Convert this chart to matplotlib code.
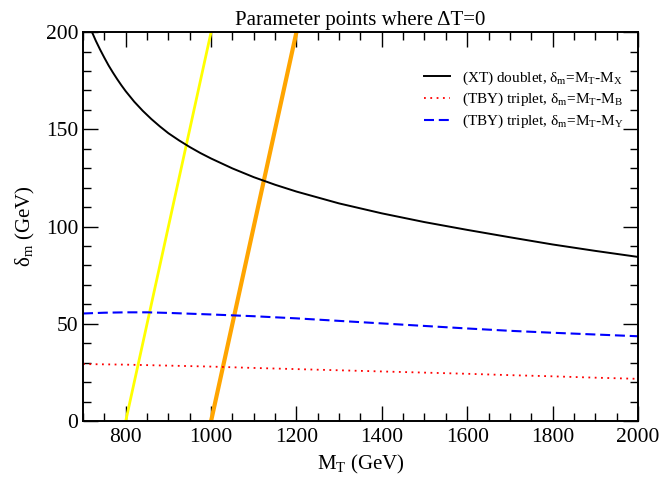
import numpy as np
import matplotlib
matplotlib.use('Agg')
import matplotlib.pyplot as plt
from matplotlib.ticker import MultipleLocator

plt.rcParams['font.family'] = 'Liberation Serif'
plt.rcParams['mathtext.fontset'] = 'custom'
plt.rcParams['mathtext.rm'] = 'Liberation Serif'
plt.rcParams['mathtext.it'] = 'Liberation Serif:italic'

# (XT) doublet curve
mt_xt = [721, 730, 740, 750, 760, 770, 780, 790, 800, 820, 840, 860, 880, 900, 925, 950, 975,
         1000, 1050, 1100, 1150, 1200, 1300, 1400, 1500, 1600, 1700, 1800, 1900, 2000]
dm_xt = [200, 195.5, 191, 186.8, 182.8, 179.2, 175.8, 172.6, 169.6, 164.2, 159.5, 155.3, 151.5,
         148, 144.3, 140.9, 137.8, 135, 129.9, 125.4, 121.5, 118, 111.9, 106.8, 102.3,
         98.3, 94.5, 90.8, 87.5, 84.4]

# (TBY) triplet, M_B
mt_b = [700, 800, 900, 1000, 1100, 1200, 1300, 1400, 1500, 1600, 1700, 1800, 1900, 2000]
dm_b = [29.3, 29.0, 28.5, 28.0, 27.3, 26.7, 26.1, 25.5, 24.9, 24.3, 23.6, 23.0, 22.3, 21.7]

# (TBY) triplet, M_Y
mt_y = [700, 750, 800, 850, 900, 1000, 1100, 1200, 1300, 1400, 1500, 1600, 1700, 1800, 1900, 2000]
dm_y = [55.3, 55.7, 55.9, 55.9, 55.6, 54.8, 53.9, 52.8, 51.5, 50.2, 48.9, 47.6, 46.4, 45.4, 44.5, 43.6]

# Delta T = 0 lines
yellow_x = [800, 1000]
orange_x = [1000, 1200]
line_y = [0, 200]

fig = plt.figure(figsize=(6.59, 4.79), dpi=100)
ax = fig.add_subplot(111)
plt.subplots_adjust(left=0.126, right=0.968, top=0.933, bottom=0.121)

ax.plot(yellow_x, line_y, color='#ffff00', lw=2.0)
ax.plot(orange_x, line_y, color='#ffa500', lw=3.0)
ax.plot(mt_xt, dm_xt, color='black', lw=1.4,
        label=r'(XT) doublet, δ$_{\mathrm{m}}$=M$_{\mathrm{T}}$-M$_{\mathrm{X}}$')
ax.plot(mt_b, dm_b, color='red', lw=1.3, linestyle=(0, (1, 2.5)),
        label=r'(TBY) triplet, δ$_{\mathrm{m}}$=M$_{\mathrm{T}}$-M$_{\mathrm{B}}$')
ax.plot(mt_y, dm_y, color='blue', lw=1.5, linestyle=(0, (4.8, 2.3)),
        label=r'(TBY) triplet, δ$_{\mathrm{m}}$=M$_{\mathrm{T}}$-M$_{\mathrm{Y}}$')

ax.set_xlim(700, 2000)
ax.set_ylim(0, 200)
ax.xaxis.set_major_locator(MultipleLocator(200))
ax.xaxis.set_minor_locator(MultipleLocator(50))
ax.yaxis.set_major_locator(MultipleLocator(50))
ax.yaxis.set_minor_locator(MultipleLocator(10))
ax.tick_params(which='both', direction='in', top=True, right=True, labelsize=15.5)
ax.tick_params(which='major', length=11, width=1.0)
ax.tick_params(which='minor', length=6, width=1.0)
ax.tick_params(axis='x', pad=5)
for s in ax.spines.values():
    s.set_linewidth(1.4)

ax.set_title(r'Parameter points where ΔT=0', fontsize=15, pad=5)
ax.set_xlabel(r'M$_{\mathrm{T}}$ (GeV)', fontsize=15)
ax.set_ylabel(r'δ$_{\mathrm{m}}$ (GeV)', fontsize=15, labelpad=6)

ax.legend(loc='upper right', frameon=False, fontsize=11, handlelength=1.7,
          handletextpad=0.8, labelspacing=0.3, bbox_to_anchor=(1.0, 0.94))

plt.savefig('out.png', dpi=100)
